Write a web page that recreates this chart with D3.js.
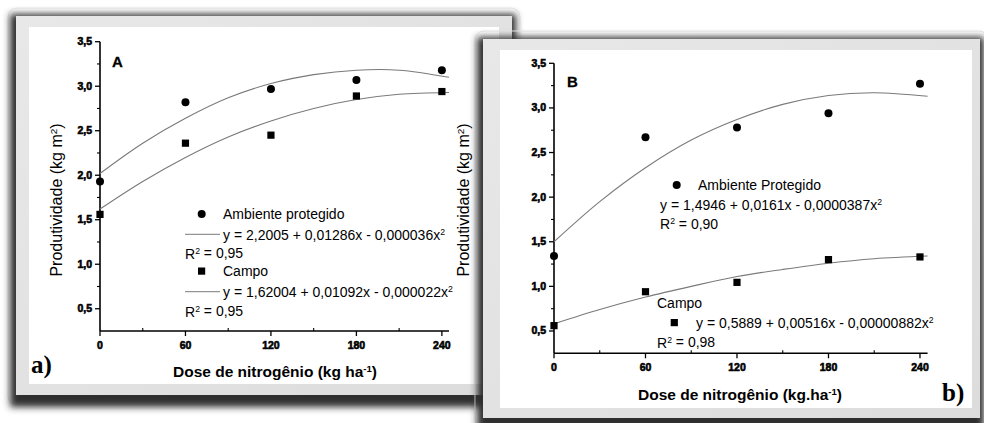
<!DOCTYPE html>
<html><head><meta charset="utf-8">
<script src="https://cdn.jsdelivr.net/npm/d3@7"></script>
<style>
html,body{margin:0;padding:0;background:#fff;}
svg{display:block;font-family:"Liberation Sans",Arial,sans-serif;}
</style></head>
<body>
<svg id="c" width="984" height="423"></svg>
<script>
// ---- data ----
const doses = [0, 60, 120, 180, 240];
const ambienteA = [1.93, 2.82, 2.97, 3.07, 3.18];
const campoA = [1.56, 2.36, 2.45, 2.89, 2.94];
const ambienteB = [1.34, 2.67, 2.78, 2.94, 3.27];
const campoB = [0.56, 0.94, 1.045, 1.30, 1.33];
// fitted curves
const fitDoses = [0, 30, 60, 90, 120, 150, 180, 210, 245];
const fitAmbienteA = [2.02, 2.36, 2.64, 2.87, 3.03, 3.13, 3.18, 3.18, 3.10];
const fitCampoA = [1.62, 1.93, 2.20, 2.43, 2.61, 2.75, 2.85, 2.91, 2.93];
const fitAmbienteB = [1.50, 1.95, 2.33, 2.64, 2.87, 3.04, 3.14, 3.17, 3.13];
const fitCampoB = [0.58, 0.74, 0.88, 1.00, 1.11, 1.19, 1.26, 1.31, 1.34];
const xTicks = [0, 60, 120, 180, 240];
const xMinorTicks = [30, 90, 150, 210];
const yTicks = [0.5, 1.0, 1.5, 2.0, 2.5, 3.0, 3.5];
const yMinorTicks = [0.75, 1.25, 1.75, 2.25, 2.75, 3.25];
const legendA = ["Ambiente protegido", "y = 2,2005 + 0,01286x - 0,000036x", "R", " = 0,95",
                 "Campo", "y = 1,62004 + 0,01092x - 0,000022x", "R", " = 0,95"];
const legendB = ["Ambiente Protegido", "y = 1,4946 + 0,0161x - 0,0000387x", " = 0,90",
                 "Campo", "y = 0,5889 + 0,00516x - 0,00000882x", " = 0,98"];

const svg = d3.select("#c");
const defs = svg.append("defs");
const f = defs.append("filter").attr("id","blur").attr("x","-10%").attr("y","-10%").attr("width","120%").attr("height","120%");
f.append("feGaussianBlur").attr("stdDeviation", 3.5);
const g1 = defs.append("linearGradient").attr("id","mat").attr("x1",0).attr("y1",0).attr("x2",1).attr("y2",1);
g1.append("stop").attr("offset","0%").attr("stop-color","#e8e8e8");
g1.append("stop").attr("offset","100%").attr("stop-color","#dcdcdc");

function frame(o) {
  // faint halo
  svg.append("rect").attr("x",o.x-8).attr("y",o.y-8).attr("width",o.w+16).attr("height",o.h+18)
    .attr("rx",9).attr("fill","none").attr("stroke","#ebebeb").attr("stroke-width",1);
  svg.append("rect").attr("x",o.x-6).attr("y",o.y-2).attr("width",o.w+10).attr("height",o.h+14)
    .attr("fill","#2e2e2e").attr("filter","url(#blur)");
  svg.append("rect").attr("x",o.x).attr("y",o.y).attr("width",o.w).attr("height",o.h).attr("fill","url(#mat)");
  svg.append("rect").attr("x",o.ix).attr("y",o.iy).attr("width",o.iw).attr("height",o.ih).attr("fill","#ffffff");
}

function supText(sel, parts) {
  parts.forEach(p => {
    const t = sel.append("tspan").text(p[0]);
    if (p[1]) t.attr("font-size","0.62em").attr("dy","-0.55em");
    else if (p[2]) t.attr("dy","0.34em");
  });
}

function panel(P) {
  const x = d3.scaleLinear().domain([0, 245]).range([P.x0, P.x1]);
  const y = d3.scaleLinear().domain([0.25, 3.5]).range([P.y0, P.y1]);
  const g = svg.append("g");
  const fmt = v => d3.format(".1f")(v).replace(".", ",");

  g.append("line").attr("x1",x(0)).attr("x2",x(0)).attr("y1",y(0.25)).attr("y2",y(3.5)).attr("stroke","#000").attr("stroke-width",1.6);
  g.append("line").attr("x1",x(0)).attr("x2",x(245)).attr("y1",y(0.25)).attr("y2",y(0.25)).attr("stroke","#000").attr("stroke-width",1.6);
  yTicks.forEach(v => {
    g.append("line").attr("x1",x(0)-5).attr("x2",x(0)).attr("y1",y(v)).attr("y2",y(v)).attr("stroke","#000").attr("stroke-width",1.3);
    g.append("text").attr("x",x(0)-8).attr("y",y(v)+3.5).attr("text-anchor","end")
      .attr("font-size",10.5).attr("font-weight","bold").attr("stroke","#000").attr("stroke-width",0.6).text(fmt(v));
  });
  yMinorTicks.forEach(v => {
    g.append("line").attr("x1",x(0)-3).attr("x2",x(0)).attr("y1",y(v)).attr("y2",y(v)).attr("stroke","#000").attr("stroke-width",1.1);
  });
  xTicks.forEach(v => {
    g.append("line").attr("x1",x(v)).attr("x2",x(v)).attr("y1",y(0.25)).attr("y2",y(0.25)+5).attr("stroke","#000").attr("stroke-width",1.3);
    g.append("text").attr("x",x(v)).attr("y",y(0.25)+18).attr("text-anchor","middle")
      .attr("font-size",10.5).attr("font-weight","bold").attr("stroke","#000").attr("stroke-width",0.6).text(v);
  });
  xMinorTicks.forEach(v => {
    g.append("line").attr("x1",x(v)).attr("x2",x(v)).attr("y1",y(0.25)).attr("y2",y(0.25)-3).attr("stroke","#000").attr("stroke-width",1.1);
  });

  const line = d3.line().x(d => x(d[0])).y(d => y(d[1])).curve(d3.curveCatmullRom);
  [P.fitAmb, P.fitCampo].forEach(arr => {
    g.append("path").attr("d", line(fitDoses.map((d,i)=>[d, arr[i]])))
      .attr("fill","none").attr("stroke","#7a7a7a").attr("stroke-width",1.1);
  });
  doses.forEach((d,i) => {
    g.append("circle").attr("cx",x(d)).attr("cy",y(P.amb[i])).attr("r",4).attr("fill","#000");
    g.append("rect").attr("x",x(d)-3.6).attr("y",y(P.campo[i])-3.6).attr("width",7.2).attr("height",7.2).attr("fill","#000");
  });
  g.append("text").attr("x",P.letter[0]).attr("y",P.letter[1]).attr("font-size",15).attr("font-weight","bold")
    .attr("stroke","#000").attr("stroke-width",0.3).text(P.letterText);
  const xt = g.append("text").attr("x",P.xt[0]).attr("y",P.xt[1]).attr("text-anchor","middle")
    .attr("font-size",15.5).attr("font-weight","bold");
  supText(xt, [[P.xtText,false],["-1",true],[")",false,true]]);
  return {x, y, g};
}

frame({x:16, y:16, w:496, h:379, ix:29, iy:27, iw:470, ih:357});
frame({x:483, y:39, w:497, h:379, ix:500, iy:50, iw:472, ih:358});

panel({x0:100, x1:449, y0:331, y1:41.7, amb:ambienteA, campo:campoA,
  fitAmb:fitAmbienteA, fitCampo:fitCampoA, letter:[112,67], letterText:"A",
  xt:[275,377], xtText:"Dose de nitrogênio (kg ha"});
panel({x0:554, x1:927.6, y0:353.3, y1:63.3, amb:ambienteB, campo:campoB,
  fitAmb:fitAmbienteB, fitCampo:fitCampoB, letter:[567,87], letterText:"B",
  xt:[740,400], xtText:"Dose de nitrogênio (kg.ha"});

function yTitle(cx, cy) {
  const t = svg.append("text").attr("transform",`translate(${cx},${cy}) rotate(-90)`)
    .attr("text-anchor","middle").attr("font-size",16);
  supText(t, [["Produtividade (kg m",false],["2",true],[")",false,true]]);
}
yTitle(62, 200);
yTitle(469, 200);

const fs = 14;
const lg = svg.append("g").attr("font-size",fs).attr("fill","#000");
lg.append("circle").attr("cx",201.7).attr("cy",214).attr("r",4).attr("fill","#000");
lg.append("text").attr("x",223).attr("y",219).text(legendA[0]);
lg.append("line").attr("x1",185).attr("x2",220).attr("y1",234.3).attr("y2",234.3).attr("stroke","#7a7a7a");
supText(lg.append("text").attr("x",223).attr("y",239.5), [[legendA[1],false],["2",true]]);
supText(lg.append("text").attr("x",185).attr("y",258.5), [[legendA[2],false],["2",true],[legendA[3],false,true]]);
lg.append("rect").attr("x",198).attr("y",267.5).attr("width",7.2).attr("height",7.2).attr("fill","#000");
lg.append("text").attr("x",223).attr("y",276).text(legendA[4]);
lg.append("line").attr("x1",185).attr("x2",220).attr("y1",291.7).attr("y2",291.7).attr("stroke","#7a7a7a");
supText(lg.append("text").attr("x",223).attr("y",297), [[legendA[5],false],["2",true]]);
supText(lg.append("text").attr("x",185).attr("y",316.5), [[legendA[6],false],["2",true],[legendA[7],false,true]]);

lg.append("circle").attr("cx",676.7).attr("cy",185).attr("r",4).attr("fill","#000");
lg.append("text").attr("x",698).attr("y",190).text(legendB[0]);
supText(lg.append("text").attr("x",660).attr("y",209.5), [[legendB[1],false],["2",true]]);
supText(lg.append("text").attr("x",660).attr("y",229), [["R",false],["2",true],[legendB[2],false,true]]);
lg.append("text").attr("x",657).attr("y",307.5).text(legendB[3]);
lg.append("rect").attr("x",670.7).attr("y",319).attr("width",7.2).attr("height",7.2).attr("fill","#000");
supText(lg.append("text").attr("x",696).attr("y",328), [[legendB[4],false],["2",true]]);
supText(lg.append("text").attr("x",657).attr("y",347.5), [["R",false],["2",true],[legendB[5],false,true]]);

svg.append("text").attr("x",31).attr("y",373).attr("font-family","'Liberation Serif','Times New Roman',serif")
  .attr("font-size",25).attr("font-weight","bold").text("a)");
svg.append("text").attr("x",942).attr("y",401).attr("font-family","'Liberation Serif','Times New Roman',serif")
  .attr("font-size",25).attr("font-weight","bold").text("b)");
</script>
</body></html>
